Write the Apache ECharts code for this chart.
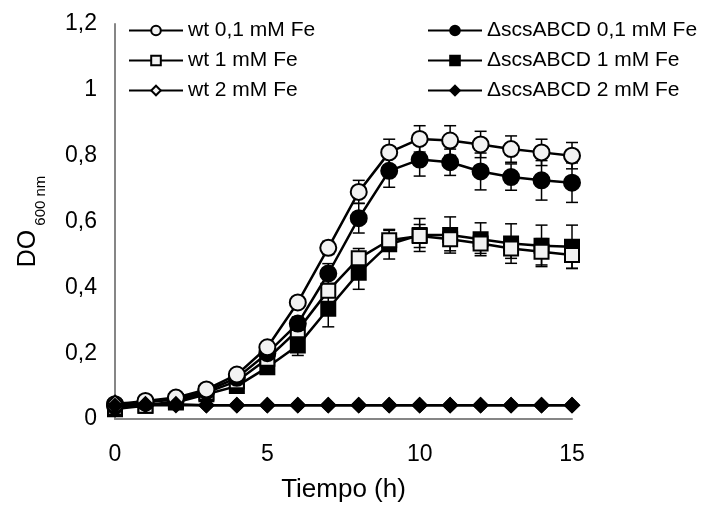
<!DOCTYPE html>
<html>
<head>
<meta charset="utf-8">
<script src="https://cdn.jsdelivr.net/npm/echarts@6/dist/echarts.min.js"></script>
<style>
  html, body { margin: 0; padding: 0; background: #fff; }
  #chart { width: 701px; height: 507px; }
</style>
</head>
<body>
<div id="chart"></div>
<script>
// tiempo (h)
var horas = [0, 1, 2, 3, 4, 5, 6, 7, 8, 9, 10, 11, 12, 13, 14, 15];

// DO600 medias
var wt01  = [0.045, 0.055, 0.065, 0.09, 0.135, 0.218, 0.354, 0.52, 0.69, 0.81, 0.851, 0.846, 0.834, 0.82, 0.81, 0.80];
var mut01 = [0.04, 0.05, 0.06, 0.085, 0.125, 0.2, 0.29, 0.442, 0.61, 0.754, 0.788, 0.78, 0.752, 0.735, 0.725, 0.718];
var wt1   = [0.035, 0.04, 0.055, 0.08, 0.115, 0.183, 0.27, 0.39, 0.488, 0.543, 0.556, 0.546, 0.533, 0.518, 0.508, 0.498];
var mut1  = [0.03, 0.04, 0.05, 0.075, 0.1, 0.157, 0.223, 0.335, 0.444, 0.531, 0.559, 0.559, 0.546, 0.533, 0.526, 0.523];
var wt2   = [0.05, 0.045, 0.045, 0.042, 0.042, 0.042, 0.042, 0.042, 0.042, 0.042, 0.042, 0.042, 0.042, 0.042, 0.042, 0.042];
var mut2  = [0.04, 0.042, 0.042, 0.042, 0.042, 0.042, 0.042, 0.042, 0.042, 0.042, 0.042, 0.042, 0.042, 0.042, 0.042, 0.042];

// desviaciones
var errWt01  = [0.005, 0.005, 0.005, 0.008, 0.01, 0.01, 0.015, 0.02, 0.035, 0.04, 0.04, 0.045, 0.04, 0.04, 0.04, 0.04];
var errMut01 = [0.005, 0.005, 0.005, 0.008, 0.01, 0.012, 0.02, 0.03, 0.045, 0.05, 0.05, 0.04, 0.056, 0.04, 0.06, 0.06];
var errWt1   = [0.005, 0.005, 0.005, 0.008, 0.01, 0.012, 0.015, 0.02, 0.03, 0.03, 0.035, 0.035, 0.03, 0.03, 0.04, 0.04];
var errMut1  = [0.005, 0.005, 0.005, 0.008, 0.01, 0.015, 0.03, 0.055, 0.05, 0.045, 0.05, 0.055, 0.05, 0.06, 0.063, 0.066];

var nombres = ['wt 0,1 mM Fe', 'ΔscsABCD 0,1 mM Fe', 'wt 1 mM Fe', 'ΔscsABCD 1 mM Fe', 'wt 2 mM Fe', 'ΔscsABCD 2 mM Fe'];

var FUENTE = '"Liberation Sans", Arial, sans-serif';

function pares(ys) {
    return horas.map(function (h, i) { return [h, ys[i]]; });
}
function barras(ys, err) {
    return horas.map(function (h, i) { return [h, ys[i] - err[i], ys[i] + err[i]]; });
}

function serieLinea(nombre, ys, simbolo, relleno, z) {
    return {
        name: nombre,
        type: 'line',
        data: pares(ys),
        symbol: simbolo,
        symbolSize: simbolo === 'circle' ? 16 : 14,
        z: z,
        lineStyle: { color: '#000', width: 2.5 },
        itemStyle: { color: relleno, borderColor: '#000', borderWidth: 2 },
        emphasis: { disabled: true },
        animation: false
    };
}

function serieError(datos, z) {
    return {
        type: 'custom',
        z: z,
        silent: true,
        animation: false,
        data: datos,
        renderItem: function (params, api) {
            var x = api.value(0);
            var lo = api.coord([x, api.value(1)]);
            var hi = api.coord([x, api.value(2)]);
            var w = 6;
            var st = { stroke: '#000', lineWidth: 1.5 };
            return {
                type: 'group',
                children: [
                    { type: 'line', shape: { x1: lo[0], y1: lo[1], x2: hi[0], y2: hi[1] }, style: st },
                    { type: 'line', shape: { x1: hi[0] - w, y1: hi[1], x2: hi[0] + w, y2: hi[1] }, style: st },
                    { type: 'line', shape: { x1: lo[0] - w, y1: lo[1], x2: lo[0] + w, y2: lo[1] }, style: st }
                ]
            };
        }
    };
}

var myChart = echarts.init(document.getElementById('chart'));

var legendaBase = {
    orient: 'vertical',
    itemWidth: 54,
    itemHeight: 12,
    itemGap: 9,
    padding: 0,
    textStyle: { fontFamily: FUENTE, fontSize: 21, lineHeight: 20, color: '#000' },
    selectedMode: false
};

option = {
    backgroundColor: '#fff',
    animation: false,
    legend: [
        Object.assign({}, legendaBase, { left: 128, top: 20, data: [nombres[0], nombres[2], nombres[4]] }),
        Object.assign({}, legendaBase, { left: 427, top: 20, data: [nombres[1], nombres[3], nombres[5]] })
    ],
    grid: { left: 115, right: 129, top: 24, bottom: 88, outerBoundsMode: 'none' },
    xAxis: {
        type: 'value',
        min: 0,
        max: 15,
        interval: 5,
        name: 'Tiempo (h)',
        nameLocation: 'middle',
        nameGap: 58,
        nameTextStyle: { fontFamily: FUENTE, fontSize: 26, color: '#000' },
        axisLine: { lineStyle: { color: '#868686', width: 2 } },
        axisTick: { show: false },
        splitLine: { show: false },
        axisLabel: { fontFamily: FUENTE, fontSize: 23, color: '#000', margin: 24 }
    },
    yAxis: {
        type: 'value',
        min: 0,
        max: 1.2,
        interval: 0.2,
        name: '{a|DO}{b| 600 nm}',
        nameLocation: 'middle',
        nameGap: 74,
        nameRotate: 90,
        nameTextStyle: {
            fontFamily: FUENTE,
            color: '#000',
            rich: {
                a: { fontFamily: FUENTE, fontSize: 25, color: '#000', verticalAlign: 'bottom' },
                b: { fontFamily: FUENTE, fontSize: 15, color: '#000', verticalAlign: 'bottom', padding: [0, 0, -7, 0] }
            }
        },
        axisLine: { show: true, lineStyle: { color: '#868686', width: 2 } },
        axisTick: { show: false },
        splitLine: { show: false },
        axisLabel: {
            fontFamily: FUENTE,
            fontSize: 23,
            color: '#000',
            margin: 18,
            formatter: function (v) { return String(+v.toFixed(1)).replace('.', ','); }
        }
    },
    series: [
        serieError(barras(mut1, errMut1), 2),
        serieLinea(nombres[3], mut1, 'rect', '#000', 3),
        serieError(barras(wt1, errWt1), 4),
        serieLinea(nombres[2], wt1, 'rect', '#f2f2f2', 5),
        serieError(barras(mut01, errMut01), 6),
        serieLinea(nombres[1], mut01, 'circle', '#000', 7),
        serieError(barras(wt01, errWt01), 8),
        serieLinea(nombres[0], wt01, 'circle', '#f2f2f2', 9),
        serieLinea(nombres[4], wt2, 'diamond', '#f2f2f2', 10),
        serieLinea(nombres[5], mut2, 'diamond', '#000', 11)
    ]
};

myChart.setOption(option);
</script>
</body>
</html>
